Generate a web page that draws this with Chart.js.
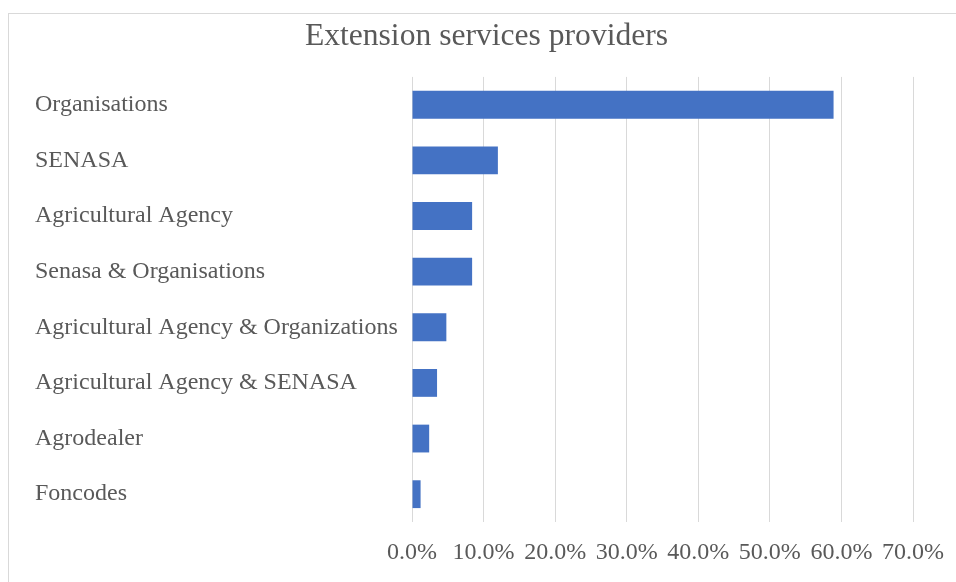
<!DOCTYPE html>
<html>
<head>
<meta charset="utf-8">
<script src="https://cdn.jsdelivr.net/npm/chart.js@4"></script>
<style>
  body { margin: 0; background: #fff; overflow: hidden; }
  #frame {
    position: absolute; left: 8px; top: 13px;
    width: 960px; height: 580px;
    border: 1px solid #d9d9d9; background: #fff;
  }
  #chart-wrap { position: absolute; left: 0; top: 0; width: 951px; height: 568px; }
</style>
</head>
<body>
<div id="frame"><div id="chart-wrap"><canvas id="providers-chart"></canvas></div></div>
<script>
// Data
const categories = [
  "Organisations",
  "SENASA",
  "Agricultural Agency",
  "Senasa & Organisations",
  "Agricultural Agency & Organizations",
  "Agricultural Agency & SENASA",
  "Agrodealer",
  "Foncodes",
]
const shares = [58.9, 12.0, 8.4, 8.4, 4.8, 3.5, 2.4, 1.2]
const xTicks = [0, 10, 20, 30, 40, 50, 60, 70]

const textColor = "#595959"
const serif = "'Liberation Serif', 'Times New Roman', serif"

const ctx = document.getElementById("providers-chart").getContext("2d")
new Chart(ctx, {
  type: "bar",
  data: {
    labels: categories,
    datasets: [
      {
        label: "Share",
        data: shares,
        backgroundColor: "#4472c4",
        barPercentage: 0.5,
        categoryPercentage: 1,
      },
    ],
  },
  options: {
    indexAxis: "y",
    responsive: true,
    maintainAspectRatio: false,
    animation: false,
    layout: { padding: { left: 26, right: 22, top: 0, bottom: 0 } },
    scales: {
      x: {
        min: xTicks[0],
        max: xTicks[xTicks.length - 1],
        afterBuildTicks: (axis) => {
          axis.ticks = xTicks.map((v) => ({ value: v }))
        },
        afterFit: (axis) => {
          axis.height = 60
        },
        grid: { color: "#d9d9d9", drawTicks: false },
        border: { display: false },
        ticks: {
          padding: 16,
          color: textColor,
          font: { family: serif, size: 24 },
          callback: (v) => v.toFixed(1) + "%",
        },
      },
      y: {
        afterFit: (axis) => {
          axis.width = 377
        },
        grid: { display: false },
        border: { display: false },
        ticks: {
          crossAlign: "far",
          color: textColor,
          font: { family: serif, size: 24 },
        },
      },
    },
    plugins: {
      legend: { display: false },
      tooltip: { enabled: false },
      title: {
        display: true,
        text: "Extension services providers",
        color: textColor,
        font: { family: serif, size: 31.6, weight: "normal" },
        padding: { top: 4, bottom: 21 },
      },
    },
  },
})
</script>
</body>
</html>
